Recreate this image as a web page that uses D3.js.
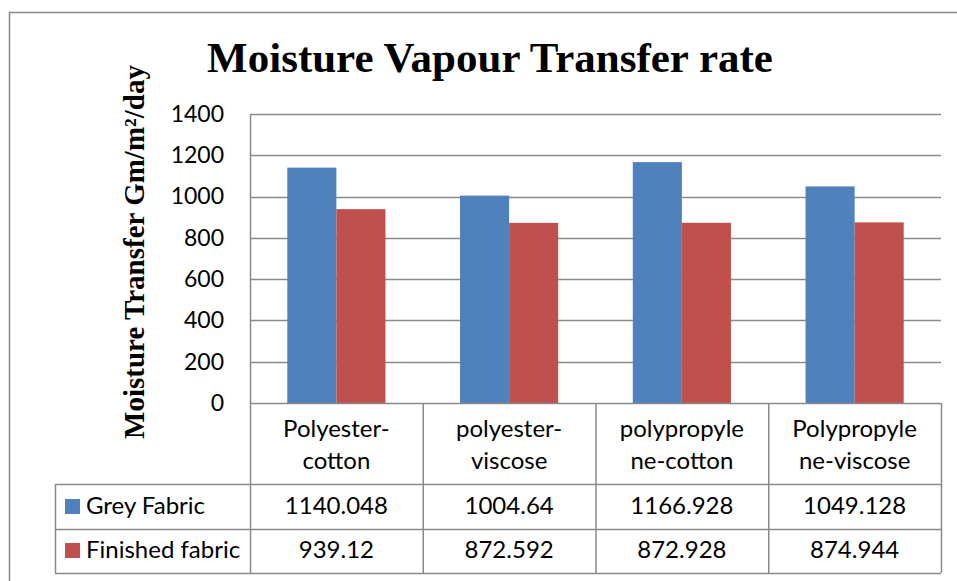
<!DOCTYPE html>
<html>
<head>
<meta charset="utf-8">
<script src="https://cdn.jsdelivr.net/npm/d3@7"></script>
<style>
  body { margin: 0; background: #fff; }
  svg text { fill: #000; }
</style>
</head>
<body>
<div id="chart"></div>
<script>
// chart data
var categories = [["Polyester-", "cotton"], ["polyester-", "viscose"], ["polypropyle", "ne-cotton"], ["Polypropyle", "ne-viscose"]];
var seriesNames = ["Grey Fabric", "Finished fabric"];
var greyFabric = [1140.048, 1004.64, 1166.928, 1049.128];
var finishedFabric = [939.12, 872.592, 872.928, 874.944];
var greyLabels = ["1140.048", "1004.64", "1166.928", "1049.128"];
var finishedLabels = ["939.12", "872.592", "872.928", "874.944"];
var yTicks = [0, 200, 400, 600, 800, 1000, 1200, 1400];

var colors = ["#4f81bd", "#c0504d"];
var width = 957, height = 581;
var gridColor = "#8a8a8a";
var sans = "Lato, 'Open Sans', sans-serif";
var serif = "'Liberation Serif', 'Times New Roman', serif";

var svg = d3.select("#chart").append("svg")
    .attr("width", width)
    .attr("height", height);

// outer frame
svg.append("rect")
    .attr("x", 9.5).attr("y", 12.5)
    .attr("width", 960).attr("height", 600)
    .attr("fill", "none").attr("stroke", "#888").attr("stroke-width", 1.5);

var plot = {left: 250, right: 941, top: 114, bottom: 403};

var keys = categories.map(function(d, i) { return "c" + i; });
var x0 = d3.scaleBand().domain(keys).range([plot.left, plot.right]).padding(0);
var x1 = d3.scaleBand().domain(seriesNames).range([0, x0.bandwidth()]).paddingInner(0).paddingOuter(0.76);
var y = d3.scaleLinear().domain([0, 1400]).range([plot.bottom, plot.top]);

// gridlines
svg.append("g").selectAll("line")
    .data(yTicks.filter(function(t) { return t > 0; }))
  .enter().append("line")
    .attr("x1", plot.left).attr("x2", plot.right)
    .attr("y1", function(d) { return Math.round(y(d)) + 0.5; })
    .attr("y2", function(d) { return Math.round(y(d)) + 0.5; })
    .attr("stroke", gridColor).attr("stroke-width", 1.5);

// y axis labels
var yAxis = d3.axisLeft(y).tickValues(yTicks).tickSize(0).tickPadding(26).tickFormat(d3.format("d"));
var yg = svg.append("g")
    .attr("transform", "translate(" + plot.left + ",0)")
    .call(yAxis);
yg.select(".domain").remove();
yg.selectAll("text")
    .style("font-family", sans).style("font-size", "23px").attr("fill", "#000");

// bars
var rows = [greyFabric, finishedFabric];
var barG = svg.append("g");
rows.forEach(function(vals, si) {
  barG.selectAll(".bar" + si)
      .data(vals)
    .enter().append("rect")
      .attr("class", "bar" + si)
      .attr("x", function(d, i) { return x0(keys[i]) + x1(seriesNames[si]); })
      .attr("width", x1.bandwidth())
      .attr("y", function(d) { return y(d); })
      .attr("height", function(d) { return y(0) - y(d); })
      .attr("fill", colors[si]);
});

// plot left edge
svg.append("line")
    .attr("x1", plot.left + 0.5).attr("x2", plot.left + 0.5)
    .attr("y1", plot.top).attr("y2", plot.bottom)
    .attr("stroke", gridColor).attr("stroke-width", 1.5);

// data table
var rowLines = [403, 484, 529, 573];
var tableLeft = 55;
var tbl = svg.append("g").attr("stroke", gridColor).attr("stroke-width", 1.5);
rowLines.forEach(function(ry, i) {
  tbl.append("line")
      .attr("x1", i === 0 ? plot.left : tableLeft).attr("x2", plot.right)
      .attr("y1", ry + 0.5).attr("y2", ry + 0.5);
});
d3.range(keys.length + 1).forEach(function(i) {
  var cx = i < keys.length ? x0(keys[i]) : plot.right;
  tbl.append("line")
      .attr("x1", cx + 0.5).attr("x2", cx + 0.5)
      .attr("y1", 403).attr("y2", 573);
});
tbl.append("line")
    .attr("x1", tableLeft + 0.5).attr("x2", tableLeft + 0.5)
    .attr("y1", 484).attr("y2", 573);

// category labels
var catG = svg.append("g")
    .style("font-family", sans).style("font-size", "24px")
    .attr("text-anchor", "middle");
categories.forEach(function(lines, i) {
  var cx = x0(keys[i]) + x0.bandwidth() / 2;
  lines.forEach(function(t, j) {
    catG.append("text")
        .attr("x", cx).attr("y", 437 + j * 32)
        .text(t);
  });
});

// value rows
var valRows = [greyLabels, finishedLabels];
var rowMid = [506, 550];
valRows.forEach(function(labels, r) {
  svg.append("g").selectAll("text")
      .data(labels)
    .enter().append("text")
      .attr("x", function(d, i) { return x0(keys[i]) + x0.bandwidth() / 2; })
      .attr("y", rowMid[r])
      .attr("dy", "0.35em")
      .attr("text-anchor", "middle")
      .style("font-family", sans).style("font-size", "24px")
      .text(function(d) { return d; });
  // legend key
  svg.append("rect")
      .attr("x", 65).attr("y", rowMid[r] - 7)
      .attr("width", 15).attr("height", 15)
      .attr("fill", colors[r]);
  svg.append("text")
      .attr("x", 86).attr("y", rowMid[r])
      .attr("dy", "0.35em")
      .style("font-family", sans).style("font-size", "24px")
      .text(seriesNames[r]);
});

// title
svg.append("text")
    .attr("x", 490).attr("y", 72)
    .attr("text-anchor", "middle")
    .style("font-family", serif).style("font-weight", "bold").style("font-size", "43px")
    .text("Moisture Vapour Transfer rate");

// y axis title
svg.append("text")
    .attr("transform", "translate(144,252) rotate(-90)")
    .attr("text-anchor", "middle")
    .style("font-family", serif).style("font-weight", "bold").style("font-size", "29px")
    .text("Moisture Transfer Gm/m²/day");
</script>
</body>
</html>
